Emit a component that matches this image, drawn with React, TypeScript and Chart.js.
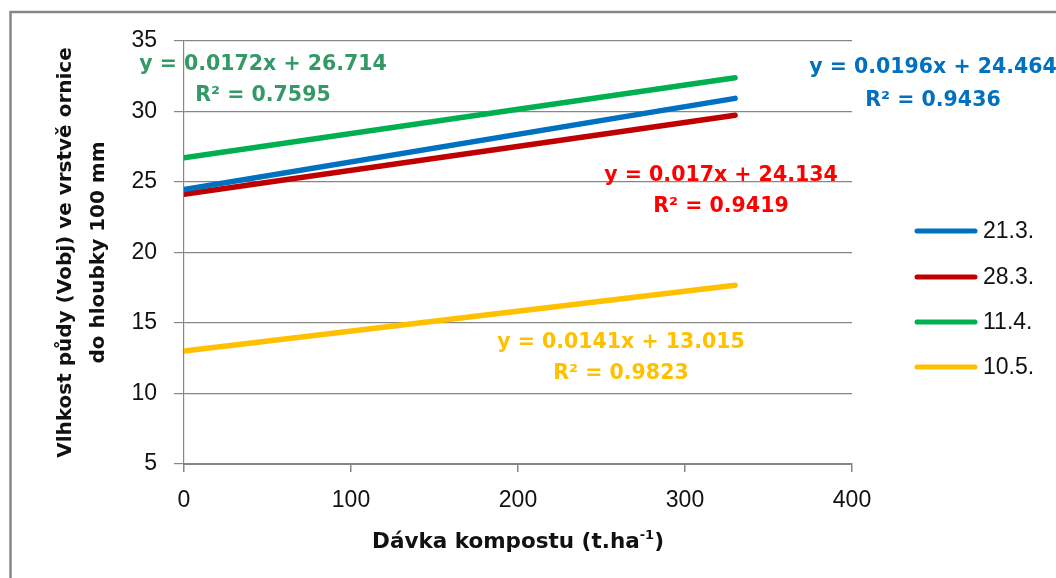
import React, { useEffect, useRef } from 'react';
import { Chart, registerables } from 'chart.js';

Chart.register(...registerables);

// ---- data ----
const doseValues = [0, 330];
const seriesNames = ['21.3.', '28.3.', '11.4.', '10.5.'];
const values213 = [24.46, 30.93];
const values283 = [24.13, 29.74];
const values114 = [26.71, 32.39];
const values105 = [13.02, 17.67];
const equations = [
  'y = 0.0196x + 24.464',
  'y = 0.017x + 24.134',
  'y = 0.0172x + 26.714',
  'y = 0.0141x + 13.015',
];
const rSquared = ['R² = 0.9436', 'R² = 0.9419', 'R² = 0.7595', 'R² = 0.9823'];
const xTickValues = [0, 100, 200, 300, 400];
const yTickValues = [5, 10, 15, 20, 25, 30, 35];
const yTitleLines = ['Vlhkost půdy (Vobj) ve vrstvě ornice', 'do hloubky 100 mm'];
const xTitleMain = 'Dávka kompostu (t.ha';
const xTitleSup = '-1';
const xTitleEnd = ')';

// ---- styles ----
const lineColors = ['#0070C0', '#C00000', '#00B050', '#FFC000'];
const textColors = ['#0070C0', '#FF0000', '#339966', '#FFC000'];
const labelCenters = [
  [933, 68, 101],
  [721, 176, 207],
  [263, 65, 96],
  [621, 343, 374],
];
const legendRows = [231, 277, 322, 367];
const GRID = '#868686';
const TICK_FONT = '"Liberation Sans", Arial, sans-serif';
const BOLD_FONT = '"DejaVu Sans", "Liberation Sans", sans-serif';

const W = 1056;
const H = 578;

const decorPlugin = {
  id: 'decor',
  beforeDraw(chart: any) {
    const ctx = chart.ctx;
    ctx.save();
    ctx.fillStyle = '#ffffff';
    ctx.fillRect(0, 0, W, H);
    ctx.strokeStyle = GRID;
    ctx.lineWidth = 2.5;
    ctx.beginPath();
    ctx.moveTo(10.5, H + 10);
    ctx.lineTo(10.5, 12);
    ctx.lineTo(W + 10, 12);
    ctx.stroke();
    ctx.restore();
  },
  afterDraw(chart: any) {
    const ctx = chart.ctx;
    ctx.save();
    // equations
    ctx.font = `bold 20.5px ${BOLD_FONT}`;
    ctx.textAlign = 'center';
    ctx.textBaseline = 'middle';
    for (let i = 0; i < equations.length; i++) {
      const [cx, y1, y2] = labelCenters[i];
      ctx.fillStyle = textColors[i];
      ctx.fillText(equations[i], cx, y1);
      ctx.fillText(rSquared[i], cx, y2);
    }
    // legend
    for (let i = 0; i < seriesNames.length; i++) {
      const y = legendRows[i];
      ctx.strokeStyle = lineColors[i];
      ctx.lineWidth = 5;
      ctx.lineCap = 'round';
      ctx.beginPath();
      ctx.moveTo(917, y);
      ctx.lineTo(975, y);
      ctx.stroke();
      ctx.fillStyle = '#111111';
      ctx.font = `23px ${TICK_FONT}`;
      ctx.textAlign = 'left';
      ctx.fillText(seriesNames[i], 983, y + 1);
    }
    // y title
    ctx.fillStyle = '#111111';
    ctx.font = `bold 20px ${BOLD_FONT}`;
    ctx.textAlign = 'center';
    ctx.textBaseline = 'middle';
    const cy = (chart.chartArea.top + chart.chartArea.bottom) / 2;
    ctx.save();
    ctx.translate(66, cy);
    ctx.rotate(-Math.PI / 2);
    ctx.fillText(yTitleLines[0], 0, 0);
    ctx.restore();
    ctx.save();
    ctx.translate(99, cy);
    ctx.rotate(-Math.PI / 2);
    ctx.fillText(yTitleLines[1], 0, 0);
    ctx.restore();
    // x title
    const cx = (chart.chartArea.left + chart.chartArea.right) / 2;
    const big = `bold 21.5px ${BOLD_FONT}`;
    const small = `bold 13px ${BOLD_FONT}`;
    ctx.font = big;
    const w1 = ctx.measureText(xTitleMain).width;
    ctx.font = small;
    const w2 = ctx.measureText(xTitleSup).width;
    ctx.font = big;
    const w3 = ctx.measureText(xTitleEnd).width;
    const total = w1 + w2 + w3;
    let x = cx - total / 2;
    ctx.textAlign = 'left';
    ctx.textBaseline = 'alphabetic';
    const base = 548;
    ctx.fillText(xTitleMain, x, base);
    x += w1;
    ctx.font = small;
    ctx.fillText(xTitleSup, x, base - 9);
    x += w2;
    ctx.font = big;
    ctx.fillText(xTitleEnd, x, base);
    ctx.restore();
  },
};

export default function App() {
  const ref = useRef<HTMLCanvasElement | null>(null);
  useEffect(() => {
    if (!ref.current) return;
    const seriesValues = [values213, values283, values114, values105];
    const chart = new Chart(ref.current, {
      type: 'line',
      data: {
        datasets: seriesNames.map((name, i) => ({
          label: name,
          data: doseValues.map((x, j) => ({ x, y: seriesValues[i][j] })),
          borderColor: lineColors[i],
          backgroundColor: lineColors[i],
          borderWidth: 5.5,
          borderCapStyle: 'round' as const,
          pointRadius: 0,
          fill: false,
        })),
      },
      options: {
        animation: false,
        responsive: false,
        devicePixelRatio: 1,
        layout: { padding: { left: 0, right: 204, top: 41, bottom: 0 } },
        plugins: { legend: { display: false }, tooltip: { enabled: false } },
        scales: {
          x: {
            type: 'linear',
            min: 0,
            max: 400,
            afterBuildTicks: (s: any) => {
              s.ticks = xTickValues.map((v) => ({ value: v }));
            },
            afterFit: (s: any) => {
              s.height = 114;
            },
            grid: { drawOnChartArea: false, drawTicks: true, tickLength: 8, color: GRID, lineWidth: 1.5 },
            border: { color: GRID, width: 2 },
            ticks: { color: '#111111', font: { family: TICK_FONT, size: 23 }, padding: 15, maxRotation: 0 },
          },
          y: {
            type: 'linear',
            min: 5,
            max: 35,
            afterBuildTicks: (s: any) => {
              s.ticks = yTickValues.map((v) => ({ value: v }));
            },
            afterFit: (s: any) => {
              s.width = 184;
            },
            grid: { color: GRID, lineWidth: 1.2, tickLength: 10 },
            border: { color: GRID, width: 1.2 },
            ticks: { color: '#111111', font: { family: TICK_FONT, size: 23 }, padding: 17 },
          },
        },
      },
      plugins: [decorPlugin],
    });
    return () => chart.destroy();
  }, []);
  return (
    <div style={{ position: 'fixed', left: 0, top: 0, width: W, height: H, background: '#fff' }}>
      <canvas ref={ref} width={W} height={H} style={{ width: W, height: H, display: 'block' }} />
    </div>
  );
}
